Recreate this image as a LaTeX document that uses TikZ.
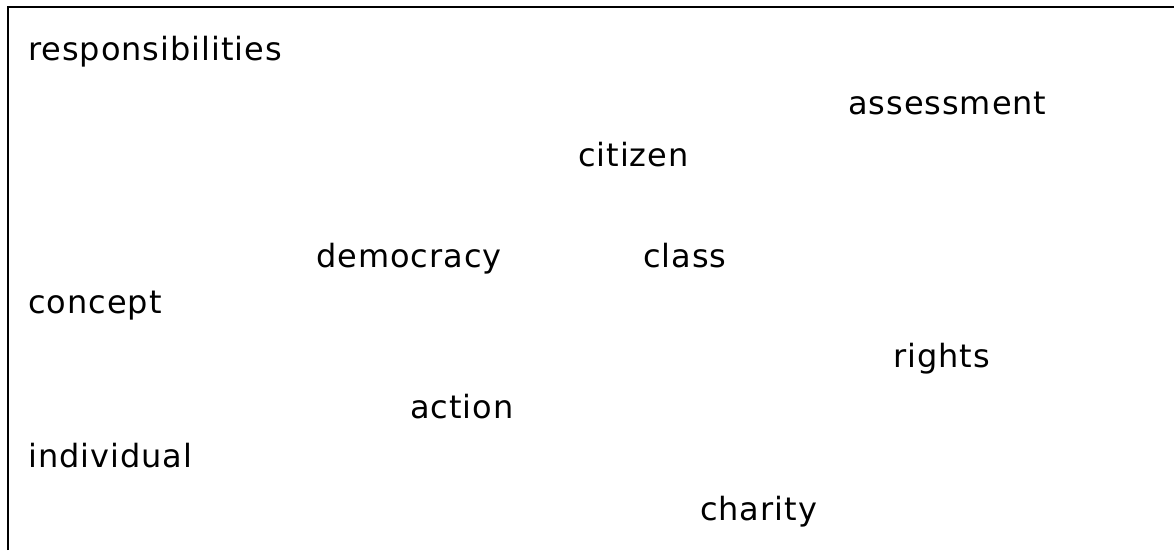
\documentclass[tikz,border=0pt]{standalone}
\usepackage{fontspec}
\setmainfont[LetterSpace=3]{DejaVu Sans}
\usepackage{tikz}

\begin{document}
\begin{tikzpicture}[x=1pt,y=-1pt]
						\tikzstyle{word}=[anchor=base west,inner sep=0pt,font=\fontsize{32}{38}\selectfont]
						\useasboundingbox (0,0) rectangle (1174,550);
						\draw[line width=2.4pt] (8,550) -- (8,7) -- (1174,7);
						\node[word](w1) at (28,60) {responsibilities};
						\node[word](w2) at (848,114) {assessment};
						\node[word](w3) at (578,166) {citizen};
						\node[word](w4) at (316,267) {democracy};
						\node[word](w5) at (643,267) {class};
						\node[word](w6) at (28,313) {concept};
						\node[word](w7) at (893,367) {rights};
						\node[word](w8) at (410,418) {action};
						\node[word](w9) at (28,467) {individual};
						\node[word](w10) at (700,520) {charity};
					\end{tikzpicture}
\end{document}
